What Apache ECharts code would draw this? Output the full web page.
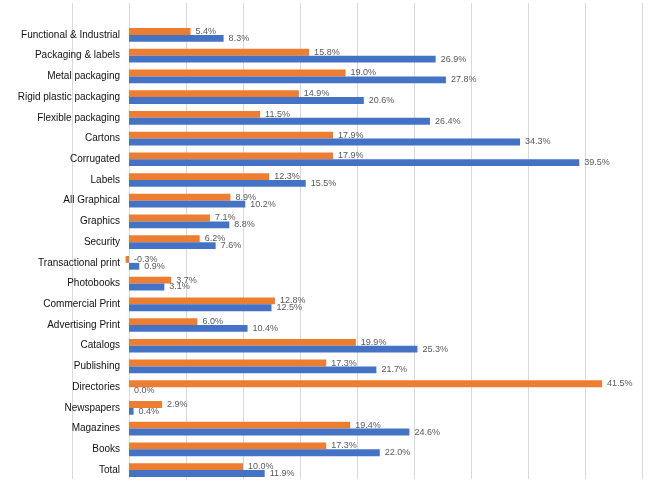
<!DOCTYPE html>
<html>
<head>
<meta charset="utf-8">
<script src="https://cdn.jsdelivr.net/npm/echarts@6/dist/echarts.min.js"></script>
<style>html,body{margin:0;padding:0;background:#fff}#c{width:649px;height:484px}</style>
</head>
<body>
<div id="c"></div>
<script>
var categories = ["Functional & Industrial","Packaging & labels","Metal packaging","Rigid plastic packaging","Flexible packaging","Cartons","Corrugated","Labels","All Graphical","Graphics","Security","Transactional print","Photobooks","Commercial Print","Advertising Print","Catalogs","Publishing","Directories","Newspapers","Magazines","Books","Total"];
var orangeValues = [5.4,15.8,19.0,14.9,11.5,17.9,17.9,12.3,8.9,7.1,6.2,-0.3,3.7,12.8,6.0,19.9,17.3,41.5,2.9,19.4,17.3,10.0];
var blueValues = [8.3,26.9,27.8,20.6,26.4,34.3,39.5,15.5,10.2,8.8,7.6,0.9,3.1,12.5,10.4,25.3,21.7,0.0,0.4,24.6,22.0,11.9];
var xMin = -5, xMax = 45, xStep = 5;

var gridLeft = 72, gridRight = 7;
var pxPerUnit = (649 - gridLeft - gridRight) / (xMax - xMin);
var zeroOffset = -(0 - xMin) * pxPerUnit;

var chart = echarts.init(document.getElementById('c'));
var lbl = {
  show: true, position: 'right', distance: 5,
  color: '#595959', fontSize: 9, fontFamily: 'Liberation Sans',
  formatter: function (p) { return p.value.toFixed(1) + '%'; }
};
chart.setOption({
  animation: false,
  textStyle: { fontFamily: 'Liberation Sans' },
  grid: [
    { left: gridLeft, right: gridRight, top: 3, bottom: 5, containLabel: false, outerBoundsMode: 'none' },
    { left: gridLeft, right: gridRight, top: 24.6, bottom: 3.6, containLabel: false, outerBoundsMode: 'none' }
  ],
  xAxis: [
    { gridIndex: 0, type: 'value', min: xMin, max: xMax, interval: xStep,
      axisLabel: { show: false }, axisTick: { show: false }, axisLine: { show: false },
      splitLine: { show: true, lineStyle: { color: '#d9d9d9', width: 1 } } },
    { gridIndex: 1, type: 'value', min: xMin, max: xMax, interval: xStep,
      axisLabel: { show: false }, axisTick: { show: false }, axisLine: { show: false },
      splitLine: { show: false } }
  ],
  yAxis: [
    { gridIndex: 0, type: 'category', data: [''], show: false },
    { gridIndex: 1, type: 'category', data: categories, inverse: true,
      offset: zeroOffset,
      axisTick: { show: false },
      axisLine: { show: false, onZero: false },
      axisLabel: { color: '#111111', fontSize: 10, margin: 9, fontFamily: 'Liberation Sans' } }
  ],
  series: [
    { type: 'bar', xAxisIndex: 1, yAxisIndex: 1, data: orangeValues,
      itemStyle: { color: '#ED7D31' }, barGap: '0%', barCategoryGap: '34%', label: lbl },
    { type: 'bar', xAxisIndex: 1, yAxisIndex: 1, data: blueValues,
      itemStyle: { color: '#4472C4' }, barGap: '0%', barCategoryGap: '34%', label: lbl }
  ]
});
</script>
</body>
</html>
